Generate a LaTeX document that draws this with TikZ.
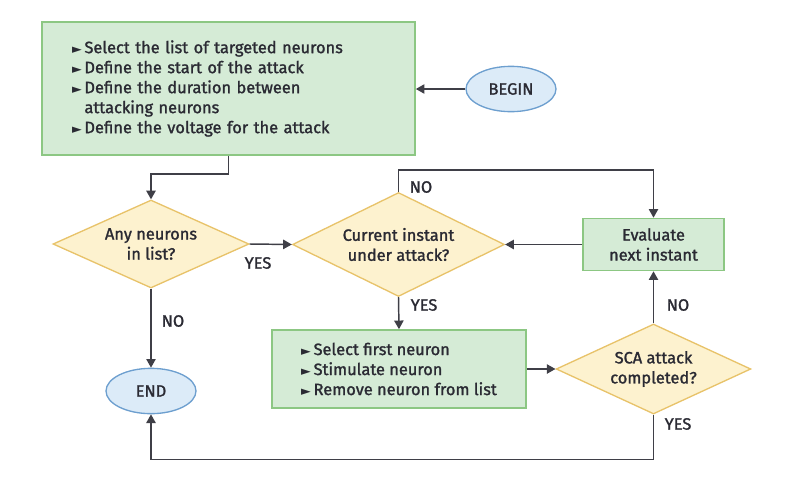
\documentclass[tikz,border=0pt]{standalone}
\usepackage{fontspec}
\setmainfont{Fira Sans}[RawFeature={embolden=1.4}]
\newfontfamily\symfont{DejaVu Sans}
\usepackage{tikz}
\usetikzlibrary{positioning,shapes.geometric,arrows.meta}

\definecolor{boxfill}{HTML}{D5EBD6}
\definecolor{boxline}{HTML}{8CC783}
\definecolor{askfill}{HTML}{FDF2CF}
\definecolor{askline}{HTML}{E8C36A}
\definecolor{endfill}{HTML}{DCEBF8}
\definecolor{endline}{HTML}{6D9FCF}
\definecolor{ink}{HTML}{2A2A33}
\definecolor{wire}{HTML}{3F3F47}

\newcommand{\arrowbullet}{{\symfont\fontsize{9.5}{9.5}\selectfont ►}\,}

\tikzset{
    every node/.style={font=\fontsize{12.3}{15}\selectfont, text=ink},
    actionbox/.style={draw=boxline, fill=boxfill, line width=1.2pt, rectangle},
    decision/.style={draw=askline, fill=askfill, line width=1pt, diamond, inner sep=0pt, align=center},
    terminal/.style={draw=endline, fill=endfill, line width=1pt, ellipse, minimum width=67.5pt, minimum height=34pt},
    flow/.style={draw=wire, line width=1.1pt, -{Triangle[length=6.5pt,width=7pt]}},
    lbl/.style={inner sep=0pt}
}

\begin{document}
\begin{tikzpicture}[x=0.75pt, y=-0.75pt]
    \useasboundingbox (0,0) rectangle (800,479);

    % boxes and decisions
    \node[actionbox, minimum width=279.75pt, minimum height=99.75pt, text width=234.75pt, inner xsep=22.5pt, align=left] (setup) at (228.5,88.5)
        {\arrowbullet Select the list of targeted neurons\\
         \arrowbullet Define the start of the attack\\
         \arrowbullet Define the duration between\\
         \phantom{\arrowbullet}attacking neurons\\
         \arrowbullet Define the voltage for the attack};
    \node[terminal] (begin) at (511,89) {BEGIN};

    \node[decision, aspect=2.23, minimum width=147pt, minimum height=66pt] (anylist) at (151,244) {Any neurons\\in list?};
    \node[decision, aspect=2.04, minimum width=159pt, minimum height=78pt] (current) at (398.5,244.5) {Current instant\\under attack?};
    \node[actionbox, minimum width=106pt, minimum height=39pt, align=center] (evaluate) at (653.5,244.5) {Evaluate\\next instant};

    \node[actionbox, minimum width=190.5pt, minimum height=58.5pt, align=left] (stimulate) at (399,369)
        {\arrowbullet Select first neuron\\
         \arrowbullet Stimulate neuron\\
         \arrowbullet Remove neuron from list};
    \node[decision, aspect=2.17, minimum width=146pt, minimum height=67.5pt] (completed) at (653.5,369) {SCA attack\\completed?};

    \node[terminal] (finish) at (151,391) {END};

    % connectors
    \draw[flow] (begin.west) -- (begin.west -| setup.east);
    \draw[flow] (setup.south) -- ++(0,18) -| (anylist.north);
    \draw[flow] (anylist.east) -- (current.west);
    \draw[flow] (current.north) -- ++(0,-22) -| (evaluate.north);
    \draw[flow] (evaluate.west) -- (current.east);
    \draw[flow] (current.south) -- (stimulate.north);
    \draw[flow] (stimulate.east) -- (completed.west);
    \draw[flow] (completed.north) -- (evaluate.south);
    \draw[flow] (completed.south) -- ++(0,45) -| (finish.south);
    \draw[flow] (anylist.south) -- (finish.north);

    % labels
    \node[lbl] (yesany) at (258,263) {YES};
    \node[lbl] (noany) at (173,321) {NO};
    \node[lbl] (nocur) at (421,187) {NO};
    \node[lbl] (yescur) at (424,305) {YES};
    \node[lbl] (nodone) at (678,305) {NO};
    \node[lbl] (yesdone) at (678,424) {YES};
\end{tikzpicture}
\end{document}
